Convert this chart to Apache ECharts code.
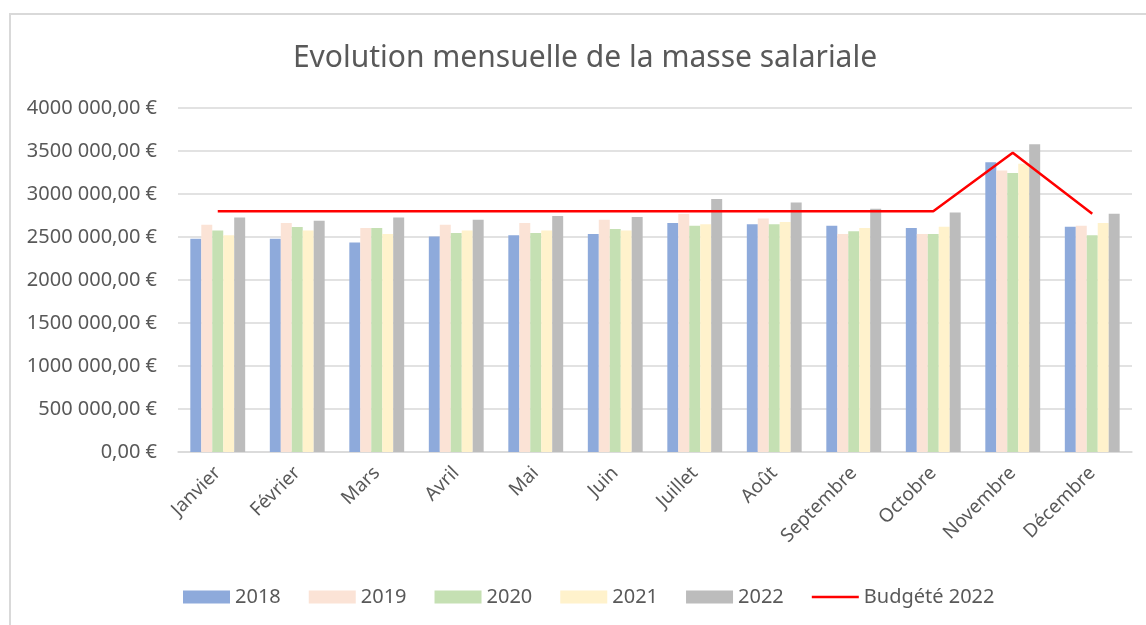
<!DOCTYPE html>
<html>
<head>
<meta charset="utf-8">
<script src="https://cdn.jsdelivr.net/npm/echarts@6/dist/echarts.min.js"></script>
<style>
  html, body { margin: 0; padding: 0; background: #fff; }
  #chart { width: 1146px; height: 625px; }
</style>
</head>
<body>
<div id="chart"></div>
<script>
const months = ['Janvier', 'Février', 'Mars', 'Avril', 'Mai', 'Juin', 'Juillet', 'Août', 'Septembre', 'Octobre', 'Novembre', 'Décembre'];

const years = ['2018', '2019', '2020', '2021', '2022'];

const v2018 = [2480000, 2480000, 2437000, 2507000, 2519000, 2535000, 2663000, 2647000, 2631000, 2604000, 3369000, 2620000];
const v2019 = [2643000, 2663000, 2604000, 2643000, 2663000, 2700000, 2767000, 2716000, 2535000, 2535000, 3272000, 2631000];
const v2020 = [2577000, 2616000, 2604000, 2547000, 2547000, 2593000, 2631000, 2647000, 2566000, 2535000, 3244000, 2519000];
const v2021 = [2520000, 2577000, 2535000, 2577000, 2577000, 2577000, 2647000, 2674000, 2604000, 2620000, 3353000, 2663000];
const v2022 = [2728000, 2690000, 2728000, 2700000, 2744000, 2732000, 2942000, 2902000, 2829000, 2786000, 3578000, 2770000];

const budget2022 = [2800000, 2800000, 2800000, 2800000, 2800000, 2800000, 2800000, 2800000, 2800000, 2800000, 3480000, 2770000];

const yearColors = ['#8eaadb', '#fbe3d6', '#c5e0b3', '#fff2cc', '#bcbcbc'];

// axe Y : 0 à 4 000 000, pas de 500 000
const yMin = 0;
const yMax = 4000000;
const yStep = 500000;

function euro(v) {
  let s;
  if (v >= 1000) {
    s = Math.floor(v / 1000) + ' ' + String(v % 1000).padStart(3, '0');
  } else {
    s = String(v);
  }
  return s + ',00 €';
}

const chart = echarts.init(document.getElementById('chart'));

const yearValues = [v2018, v2019, v2020, v2021, v2022];
const series = years.map((y, i) => ({
  name: y,
  type: 'bar',
  data: yearValues[i],
  itemStyle: { color: yearColors[i] },
  barGap: '0%',
  barCategoryGap: '31%'
}));

series.push({
  name: 'Budgété 2022',
  type: 'line',
  data: budget2022,
  symbol: 'none',
  lineStyle: { color: '#ff0000', width: 2.5 },
  itemStyle: { color: '#ff0000' },
  z: 5
});

const font = '"Noto Sans", sans-serif';

chart.setOption({
  animation: false,
  textStyle: { fontFamily: font },
  graphic: [
    {
      type: 'rect',
      shape: { x: 10, y: 14, width: 1200, height: 700 },
      style: { fill: 'none', stroke: '#d9d9d9', lineWidth: 2 },
      silent: true
    },
    {
      type: 'text',
      x: 585,
      y: 58,
      style: {
        text: 'Evolution mensuelle de la masse salariale',
        fill: '#595959',
        font: '30px ' + font,
        align: 'center',
        verticalAlign: 'middle'
      }
    }
  ],
  legend: {
    left: 183,
    top: 587,
    padding: 0,
    itemWidth: 47,
    itemHeight: 13,
    itemGap: 28,
    icon: 'rect',
    textStyle: { color: '#595959', fontSize: 20, fontFamily: font },
    data: [
      { name: '2018' }, { name: '2019' }, { name: '2020' }, { name: '2021' }, { name: '2022' },
      { name: 'Budgété 2022', icon: 'path://M0,0 L47,0 L47,2.5 L0,2.5 Z' }
    ]
  },
  grid: {
    left: 178,
    right: 14,
    top: 108,
    bottom: 173,
    containLabel: false
  },
  xAxis: {
    type: 'category',
    data: months,
    axisLine: { lineStyle: { color: '#d9d9d9', width: 1.5 } },
    axisTick: { show: false },
    axisLabel: {
      rotate: 45,
      color: '#595959',
      fontSize: 19,
      margin: 18,
      interval: 0
    }
  },
  yAxis: {
    type: 'value',
    min: yMin,
    max: yMax,
    interval: yStep,
    axisLine: { show: false },
    axisTick: { show: false },
    axisLabel: {
      color: '#595959',
      fontSize: 20,
      margin: 21,
      formatter: euro
    },
    splitLine: { lineStyle: { color: '#d9d9d9', width: 1.5 } }
  },
  series: series
});
</script>
</body>
</html>
